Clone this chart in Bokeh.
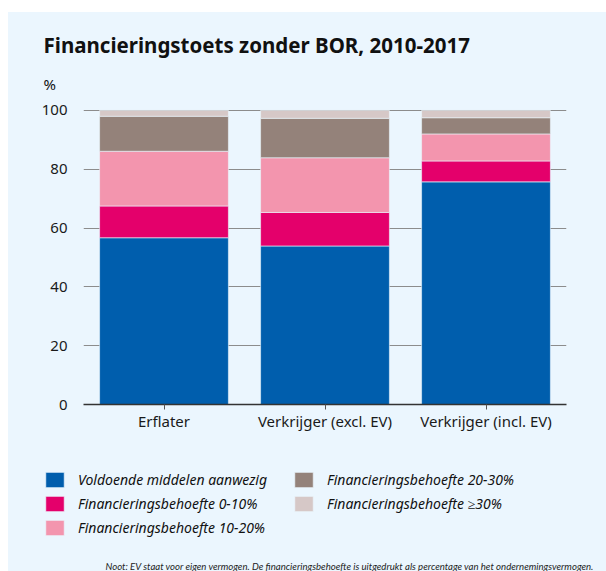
from bokeh.plotting import figure
from bokeh.models import (Range1d, FactorRange, Legend, LegendItem, FixedTicker,
                          ColumnDataSource, Title, Label, Spacer)
from bokeh.layouts import column, row
from bokeh.embed import file_html
from bokeh.resources import INLINE

categories = ["Erflater", "Verkrijger (excl. EV)", "Verkrijger (incl. EV)"]
voldoende = [56.7, 53.9, 75.7]
fb_0_10 = [10.8, 11.4, 7.1]
fb_10_20 = [18.6, 18.6, 9.2]
fb_20_30 = [11.9, 13.4, 5.5]
fb_30_plus = [2.0, 2.7, 2.5]
series_keys = ["voldoende", "fb_0_10", "fb_10_20", "fb_20_30", "fb_30_plus"]
series_labels = [
    "Voldoende middelen aanwezig",
    "Financieringsbehoefte 0-10%",
    "Financieringsbehoefte 10-20%",
    "Financieringsbehoefte 20-30%",
    "Financieringsbehoefte \u226530%",
]
colors = ["#005EAD", "#E4006B", "#F395AE", "#94827A", "#D6C8C7"]
y_ticks = [0, 20, 40, 60, 80, 100]
title_text = "Financieringstoets zonder BOR, 2010-2017"
unit_text = "%"
note_text = ("Noot: EV staat voor eigen vermogen. De financieringsbehoefte is uitgedrukt "
             "als percentage van het ondernemingsvermogen.")

BG = "#EBF6FE"
FONT = "Noto Sans"
TXT = "#111111"

source = ColumnDataSource(dict(
    cat=categories,
    voldoende=voldoende,
    fb_0_10=fb_0_10,
    fb_10_20=fb_10_20,
    fb_20_30=fb_20_30,
    fb_30_plus=fb_30_plus,
))

# ---------------- main chart ----------------
p = figure(
    width=598, height=440,
    x_range=FactorRange(*categories),
    y_range=Range1d(0, 102),
    output_backend="svg", toolbar_location=None,
    min_border_left=75, min_border_right=40,
    min_border_top=92, min_border_bottom=48,
)
p.frame_align = False
p.background_fill_color = BG
p.border_fill_color = BG
p.outline_line_color = None

renderers = p.vbar_stack(series_keys, x="cat", width=0.8, color=colors,
                         line_color=BG, line_width=0.6, source=source)

p.xgrid.visible = False
p.ygrid.grid_line_color = "#8C8C8C"
p.ygrid.grid_line_width = 1
p.ygrid.level = "underlay"

p.yaxis.ticker = FixedTicker(ticks=y_ticks)
p.yaxis.axis_line_color = None
p.yaxis.major_tick_line_color = None
p.yaxis.minor_tick_line_color = None
p.yaxis.major_label_standoff = 10
p.yaxis.major_label_text_font = FONT
p.yaxis.major_label_text_font_size = "15px"
p.yaxis.major_label_text_color = "#1A1A1A"

p.xaxis.axis_line_color = "#333333"
p.xaxis.axis_line_width = 1.5
p.xaxis.major_tick_line_color = "#555555"
p.xaxis.major_tick_in = 0
p.xaxis.major_tick_out = 5
p.xaxis.minor_tick_line_color = None
p.xaxis.major_label_standoff = 1
p.xaxis.major_label_text_font = FONT
p.xaxis.major_label_text_font_size = "15px"
p.xaxis.major_label_text_color = "#1A1A1A"

# "above" panel: first added is nearest the frame
p.add_layout(Title(text=unit_text, align="left", offset=-40, standoff=21,
                   text_font=FONT, text_font_style="normal", text_font_size="15px",
                   text_color=TXT), "above")
p.add_layout(Title(text=title_text, align="left", offset=-40, standoff=6,
                   text_font=FONT, text_font_style="bold", text_font_size="20.5px",
                   text_color=TXT), "above")

# ---------------- legend + note panel ----------------
p2 = figure(
    width=598, height=119,
    x_range=FactorRange(*categories), y_range=Range1d(1000, 1001),
    x_axis_type=None, y_axis_type=None,
    output_backend="svg", toolbar_location=None,
    min_border=0, min_border_left=0, min_border_right=0,
    min_border_top=0, min_border_bottom=0,
)
p2.frame_align = False
p2.background_fill_color = BG
p2.border_fill_color = BG
p2.outline_line_color = None
p2.xgrid.visible = False
p2.ygrid.visible = False

# same stacked series, kept outside this panel's visible range: only their legend swatches show
swatches = p2.vbar_stack(series_keys, x="cat", width=0.8, color=colors,
                         line_color=BG, line_width=0.6, source=source)
items = [LegendItem(label=lab, renderers=[r]) for lab, r in zip(series_labels, swatches)]


def make_legend(its, loc):
    return Legend(items=its, location=loc, orientation="vertical",
                  glyph_width=23, glyph_height=19, label_height=19, spacing=5,
                  label_standoff=12, padding=0, margin=0,
                  background_fill_alpha=0, border_line_alpha=0,
                  label_text_font=FONT, label_text_font_style="italic",
                  label_text_font_size="14px", label_text_color=TXT)


p2.add_layout(make_legend(items[:3], (35, 34)))
p2.add_layout(make_legend(items[3:], (284, 58)))

p2.add_layout(Label(x=586, y=5, x_units="screen", y_units="screen", text=note_text,
                    text_font="Lato", text_font_style="italic", text_font_size="9.6px",
                    text_color="#222222", text_align="right", text_baseline="alphabetic"))

inner = column(p, p2, spacing=0, styles={"background-color": BG})
layout = column(
    Spacer(width=606, height=12),
    row(Spacer(width=8, height=559), inner, spacing=0),
    spacing=0,
)

open("out.html", "w").write(file_html(layout, INLINE))
